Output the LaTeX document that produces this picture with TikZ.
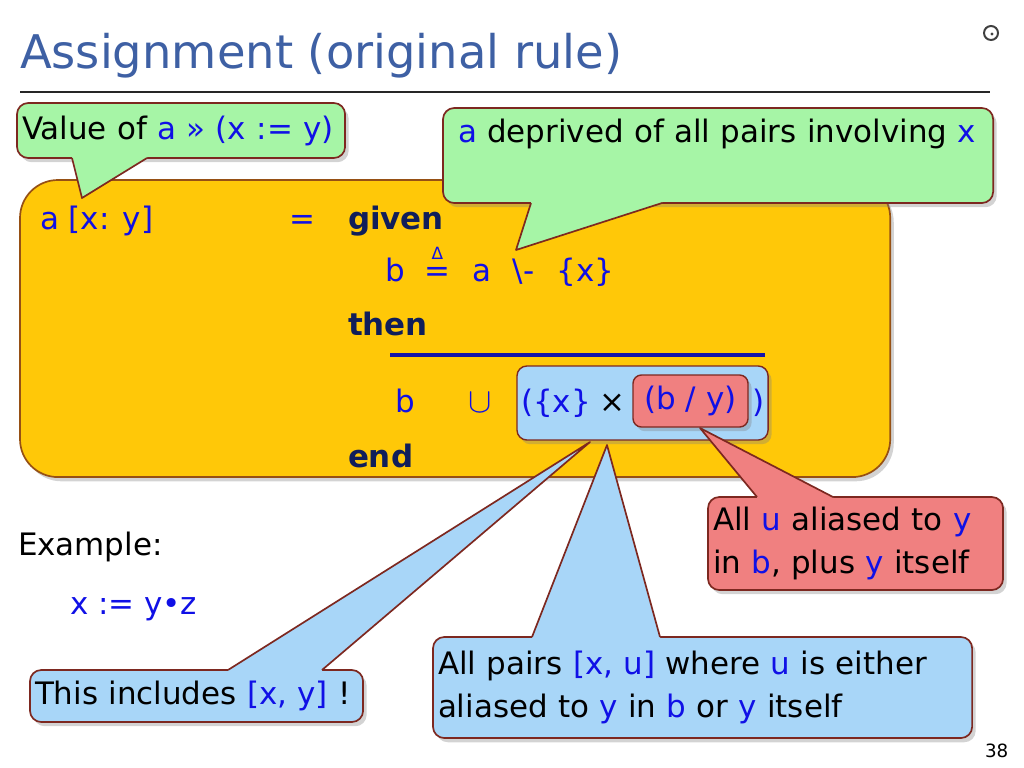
\documentclass[tikz,border=0pt]{standalone}
\usepackage{fontspec}
\setmainfont{DejaVu Sans}
\usetikzlibrary{positioning, calc, shadows}

\definecolor{titleblue}{RGB}{62,96,164}
\definecolor{codeblue}{RGB}{16,16,230}
\definecolor{keynavy}{RGB}{16,30,90}
\definecolor{lineblue}{RGB}{20,20,170}
\definecolor{rulegold}{RGB}{255,200,8}
\definecolor{goldedge}{RGB}{150,80,20}
\definecolor{notegreen}{RGB}{166,245,166}
\definecolor{noteblue}{RGB}{168,214,248}
\definecolor{notered}{RGB}{240,128,128}
\definecolor{noteedge}{RGB}{125,40,32}

\newcommand{\bodyfont}{\fontsize{22}{30}\selectfont}
\newcommand{\titlefont}{\fontsize{33}{40}\selectfont}
\newcommand{\cb}[1]{\textcolor{codeblue}{#1}}
\newcommand{\defeq}{\ooalign{=\cr\hidewidth\raisebox{15pt}{\fontsize{12}{12}\selectfont Δ}\hidewidth\cr}}

\tikzset{
txt/.style = {inner sep=0pt, outer sep=0pt, anchor=base west, font=\bodyfont},
code/.style = {txt, text=codeblue},
keyw/.style = {txt, text=keynavy, font=\bodyfont\bfseries},
boxshadow/.style = {drop shadow={shadow xshift=2.5pt, shadow yshift=-3pt, opacity=.35}},
callbox/.style = {boxshadow, draw=noteedge, line width=1.2pt, fill=#1,
                  rounded corners=8pt, anchor=north west, align=left,
                  inner xsep=0.125cm, inner ysep=0pt, outer sep=0pt, font=\bodyfont},
ptredge/.style = {draw=noteedge, line width=1.2pt, line join=round}
}

\begin{document}
\begin{tikzpicture}[x=0.025cm, y=-0.025cm]
\useasboundingbox (0,0) rectangle (1024,768);

% title
\node[txt, font=\titlefont, text=titleblue] (title) at (20,69) {Assignment (original rule)};
\draw[line width=0.8pt, black!85] (20,92) -- (990,92);
\draw[line width=1.4pt, black!75] (991,33) circle[radius=7];
\fill[black!75] (992,34) circle[radius=1.6];

% the rule
\node[boxshadow, draw=goldedge, line width=1.2pt, fill=rulegold, rounded corners=27pt,
      anchor=north west, minimum width=21.75cm, minimum height=7.425cm, outer sep=0pt] (rule) at (20,180) {};
\node[code] (lhs) at (40,229) {a [x: y]};
\node[code, anchor=base] (eq) at (302,229) {=};
\node[keyw] (given) at (348,229) {given};
\node[code] (bdef) at (385,281) {b\hspace{14pt}\defeq\hspace{16pt}a\hspace{15pt}\textbackslash-\hspace{16pt}\{x\}};
\node[keyw] (then) at (348,335) {then};
\draw[line width=2.2pt, lineblue] (390,355) -- (765,355);
\node[code] (bres) at (395,412) {b};
\node[code, anchor=base, font=\fontsize{26}{30}\selectfont] (cup) at (480,412) {$\cup$};
\node[boxshadow, draw=noteedge, line width=1pt, fill=noteblue, rounded corners=7pt, anchor=north west,
      minimum width=6.275cm, minimum height=1.85cm, outer sep=0pt] (setbox) at (517,366) {};
\node[code] (xset) at (521,412) {(\{x\}};
\node[txt, anchor=base] (times) at (612,412) {×};
\node[boxshadow, draw=noteedge, line width=1pt, fill=notered, rounded corners=6pt, anchor=north west,
      minimum width=2.875cm, minimum height=1.3cm, outer sep=0pt, inner sep=0pt,
      font=\bodyfont, text=codeblue] (image) at (633,375) {(b / y)};
\node[code] (rpar) at (752,412) {)};
\node[keyw] (end) at (348,467) {end};

% example
\node[txt] (example) at (18,555) {Example:};
\node[code] (assign) at (70,614) {x := y•z};
\node[txt, font=\fontsize{13}{15}\selectfont] (pageno) at (985,757) {38};

% callouts
\node[callbox=notegreen, text width=7.95cm, minimum height=1.375cm] (valnote) at (17,103)
  {Value of \cb{a » (x := y)}};
\node[callbox=notegreen, inner xsep=0.375cm, text width=13cm, minimum height=2.375cm] (deprnote) at (443,108)
  {\strut\cb{a} deprived of all pairs involving \cb{x}\\ \strut};
\node[callbox=notered, text width=7.125cm, minimum height=2.325cm] (aliasnote) at (708,497)
  {All \cb{u} aliased to \cb{y}\\ in \cb{b}, plus \cb{y} itself};
\node[callbox=noteblue, text width=13.225cm, minimum height=2.525cm] (pairsnote) at (433,637)
  {All pairs \cb{[x, u]} where \cb{u} is either\\ aliased to \cb{y} in \cb{b} or \cb{y} itself};
\node[callbox=noteblue, text width=8.075cm, minimum height=1.3cm] (incnote) at (30,670)
  {This includes \cb{[x, y]} !};

% pointers
\coordinate (vtip) at (82,198);
\coordinate (dtip) at (516,250);
\coordinate (atip) at ($(image.south west)+(67,1)$);
\coordinate (ptip) at ($(setbox.south west)+(90,5)$);
\coordinate (itip) at ($(setbox.south west)+(73,2)$);
\coordinate (v1) at ($(valnote.south west)+(55,0)$);
\coordinate (v2) at ($(valnote.south west)+(130,0)$);
\coordinate (d1) at ($(deprnote.south west)+(88,0)$);
\coordinate (d2) at ($(deprnote.south west)+(219,0)$);
\coordinate (a1) at ($(aliasnote.north west)+(49,0)$);
\coordinate (a2) at ($(aliasnote.north west)+(125,0)$);
\coordinate (i1) at ($(incnote.north west)+(198,0)$);
\coordinate (i2) at ($(incnote.north west)+(292,0)$);
\coordinate (p1) at ($(pairsnote.north west)+(99,0)$);
\coordinate (p2) at ($(pairsnote.north west)+(227,0)$);

\foreach \pa/\pb/\tp/\col/\off in {v1/v2/vtip/notegreen/-3, d1/d2/dtip/notegreen/-3,
    a1/a2/atip/notered/3, i1/i2/itip/noteblue/3, p1/p2/ptip/noteblue/3}{
  \fill[\col] (\pa) -- (\tp) -- (\pb) -- ++(0,\off) -| (\pa) -- cycle;
  \draw[ptredge] (\pa) -- (\tp) -- (\pb);
}
\end{tikzpicture}
\end{document}
